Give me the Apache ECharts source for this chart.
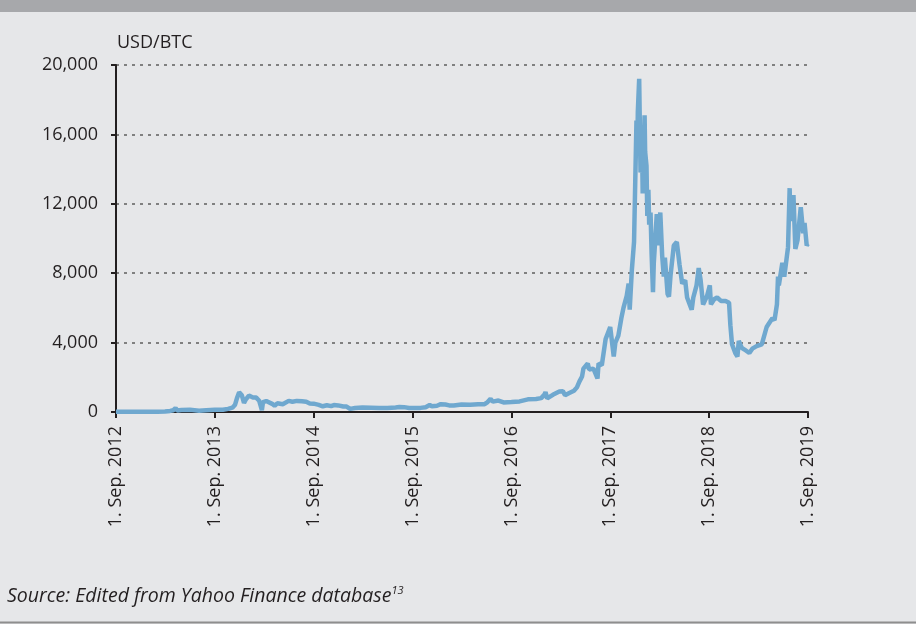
<!DOCTYPE html>
<html>
<head>
<meta charset="utf-8">
<script src="https://cdn.jsdelivr.net/npm/echarts/dist/echarts.min.js"></script>
<style>
  body { margin: 0; background: #e6e7e9; }
  #main { width: 916px; height: 624px; }
</style>
</head>
<body>
<div id="main"></div>
<script>
const startDate = "2012-09-01";
const tickYears = [2012, 2013, 2014, 2015, 2016, 2017, 2018, 2019];

const dates = [
  "2012-09-01", "2012-10-01", "2012-11-01", "2012-12-01",
  "2013-01-01", "2013-02-01", "2013-03-01", "2013-03-20", "2013-04-01", "2013-04-09", "2013-04-16", "2013-05-01",
  "2013-06-01", "2013-07-05", "2013-08-01", "2013-09-01", "2013-10-01", "2013-10-20", "2013-11-05", "2013-11-15",
  "2013-11-22", "2013-11-30", "2013-12-04", "2013-12-10", "2013-12-18", "2013-12-25",
  "2014-01-05", "2014-01-20", "2014-02-01", "2014-02-12", "2014-02-22", "2014-02-26", "2014-03-10", "2014-04-01",
  "2014-04-10", "2014-04-20", "2014-05-10", "2014-06-01", "2014-06-15", "2014-07-01", "2014-07-20", "2014-08-05",
  "2014-08-18", "2014-09-01", "2014-09-20", "2014-10-05", "2014-10-20", "2014-11-05", "2014-11-15", "2014-12-01",
  "2014-12-20",
  "2015-01-01", "2015-01-14", "2015-02-01", "2015-03-01", "2015-04-01", "2015-05-01", "2015-06-01", "2015-07-01",
  "2015-07-15", "2015-08-01", "2015-08-20", "2015-09-01", "2015-10-01", "2015-10-20", "2015-11-04", "2015-11-12",
  "2015-12-01", "2015-12-15",
  "2016-01-01", "2016-01-15", "2016-02-01", "2016-03-01", "2016-04-01", "2016-05-01", "2016-05-25", "2016-06-05",
  "2016-06-16", "2016-06-24", "2016-07-01", "2016-07-15", "2016-08-03", "2016-09-01", "2016-10-01", "2016-11-01",
  "2016-12-01", "2016-12-20",
  "2017-01-01", "2017-01-05", "2017-01-11", "2017-02-01", "2017-02-25", "2017-03-10", "2017-03-18", "2017-04-01",
  "2017-04-20", "2017-05-01", "2017-05-10", "2017-05-20", "2017-05-25", "2017-06-01", "2017-06-10", "2017-06-15",
  "2017-07-01", "2017-07-16", "2017-07-20", "2017-08-01", "2017-08-15", "2017-09-01", "2017-09-14", "2017-09-20",
  "2017-10-01", "2017-10-12", "2017-10-20", "2017-11-01", "2017-11-08", "2017-11-12", "2017-11-20", "2017-11-28",
  "2017-12-07", "2017-12-10", "2017-12-12", "2017-12-17", "2017-12-19", "2017-12-22", "2017-12-24", "2017-12-27",
  "2017-12-30",
  "2018-01-03", "2018-01-06", "2018-01-08", "2018-01-10", "2018-01-13", "2018-01-16", "2018-01-20", "2018-01-23",
  "2018-01-28", "2018-02-01", "2018-02-06", "2018-02-09", "2018-02-15", "2018-02-20", "2018-02-25", "2018-03-05",
  "2018-03-12", "2018-03-18", "2018-03-22", "2018-04-01", "2018-04-06", "2018-04-12", "2018-04-24", "2018-05-05",
  "2018-05-15", "2018-05-25", "2018-06-05", "2018-06-12", "2018-06-29", "2018-07-05", "2018-07-17", "2018-07-25",
  "2018-08-01", "2018-08-10", "2018-08-14", "2018-08-25", "2018-09-04", "2018-09-08", "2018-09-20", "2018-10-01",
  "2018-10-15", "2018-11-01", "2018-11-14", "2018-11-19", "2018-11-25", "2018-12-07", "2018-12-15", "2018-12-20",
  "2018-12-31",
  "2019-01-10", "2019-01-28", "2019-02-08", "2019-02-24", "2019-03-15", "2019-04-02", "2019-04-23", "2019-05-01",
  "2019-05-10", "2019-05-14", "2019-05-17", "2019-05-30", "2019-06-06", "2019-06-20", "2019-06-26", "2019-06-28",
  "2019-07-03", "2019-07-10", "2019-07-17", "2019-07-25", "2019-08-06", "2019-08-15", "2019-08-20", "2019-08-28",
  "2019-09-01"
];

const prices = [
  10, 12, 11, 13,
  13, 20, 34, 64, 104, 230, 83, 117,
  129, 70, 105, 136, 125, 180, 250, 420,
  800, 1130, 1150, 960, 520, 730,
  950, 840, 830, 650, 110, 570, 630, 470,
  360, 500, 450, 640, 590, 640, 620, 590,
  490, 480, 410, 330, 390, 340, 400, 380,
  320,
  315, 180, 225, 255, 245, 235, 225, 260,
  285, 280, 235, 228, 237, 270, 400, 330,
  360, 450,
  430, 380, 370, 430, 415, 450, 450, 570,
  760, 600, 670, 660, 550, 570, 610, 730,
  750, 800,
  1000, 1150, 780, 990, 1180, 1200, 970, 1080,
  1220, 1420, 1750, 2050, 2500, 2400, 2800, 2450,
  2500, 1930, 2800, 2700, 4200, 4900, 3200, 4000,
  4400, 5400, 6000, 6700, 7400, 5900, 8200, 9800,
  16800, 15000, 17300, 19200, 17000, 13800, 13900, 16000,
  12600,
  15000, 17100, 15000, 14900, 14200, 11300, 12800, 10800,
  11500, 9100, 6900, 8600, 10100, 11400, 9600, 11500,
  9000, 7800, 8900, 6800, 6650, 7900, 9600, 9800,
  8500, 7400, 7600, 6600, 5900, 6600, 7300, 8300,
  7600, 6200, 6300, 6700, 7300, 6200, 6500, 6600,
  6400, 6400, 6300, 5000, 3900, 3400, 3200, 4100,
  3700,
  3600, 3400, 3650, 3800, 3900, 4900, 5400, 5300,
  6200, 7800, 7300, 8600, 7800, 9500, 12900, 11000,
  11900, 12500, 9400, 9900, 11800, 10300, 10900, 9600,
  9700
];

// years elapsed since 1 Sep 2012
function yearsSince(d) {
  return (Date.parse(d) - Date.parse(startDate)) / (365.25 * 86400000);
}

const points = dates.map((d, i) => [yearsSince(d), prices[i]]);
const font = "'Open Sans', sans-serif";
const ink = "#231f20";

let chartDom = document.getElementById("main");
let myChart = echarts.init(chartDom);
let option = {
  backgroundColor: "#e6e7e9",
  animation: false,
  textStyle: { fontFamily: font },
  grid: {
    left: 116,
    right: 108,
    top: 65,
    bottom: 212,
    outerBoundsMode: "none",
  },
  xAxis: {
    type: "value",
    min: 0,
    max: tickYears.length - 1,
    interval: 1,
    axisLine: { lineStyle: { color: ink, width: 2 } },
    axisTick: { length: 6, lineStyle: { color: ink, width: 2 } },
    axisLabel: {
      rotate: 90,
      margin: 14,
      color: ink,
      fontSize: 18,
      fontFamily: font,
      formatter: (v) => "1. Sep. " + tickYears[Math.round(v)],
    },
    splitLine: { show: false },
  },
  yAxis: {
    type: "value",
    min: 0,
    max: 20000,
    interval: 4000,
    axisLine: { show: true, lineStyle: { color: ink, width: 2 } },
    axisTick: { show: true, length: 5, lineStyle: { color: ink, width: 2 } },
    axisLabel: {
      margin: 18,
      color: ink,
      fontSize: 18,
      fontFamily: font,
      formatter: (v) => v.toLocaleString("en-US"),
    },
    splitLine: {
      lineStyle: { color: "#808080", width: 2, type: [3, 5] },
    },
  },
  graphic: [
    {
      type: "rect",
      shape: { x: 0, y: 0, width: 916, height: 12 },
      style: { fill: "#a7a8ab" },
    },
    {
      type: "rect",
      shape: { x: 0, y: 621.5, width: 916, height: 2 },
      style: { fill: "#8e8e8e" },
    },
    {
      type: "text",
      x: 117,
      y: 43,
      style: {
        text: "USD/BTC",
        fill: ink,
        font: "18px " + font,
        verticalAlign: "middle",
      },
    },
    {
      type: "text",
      x: 7,
      y: 596,
      style: {
        text: "{a|Source: Edited from Yahoo Finance database}{b|13}",
        verticalAlign: "middle",
        rich: {
          a: { fontSize: 19.5, fontStyle: "italic", fontFamily: font, fill: ink, lineHeight: 22 },
          b: { fontSize: 11, fontStyle: "italic", fontFamily: font, fill: ink, verticalAlign: "top", lineHeight: 22 },
        },
      },
    },
  ],
  series: [
    {
      name: "USD/BTC",
      type: "line",
      data: points,
      showSymbol: false,
      lineStyle: { color: "#6fa8cf", width: 4.5 },
      itemStyle: { color: "#6fa8cf" },
    },
  ],
};
option && myChart.setOption(option);
</script>
</body>
</html>
